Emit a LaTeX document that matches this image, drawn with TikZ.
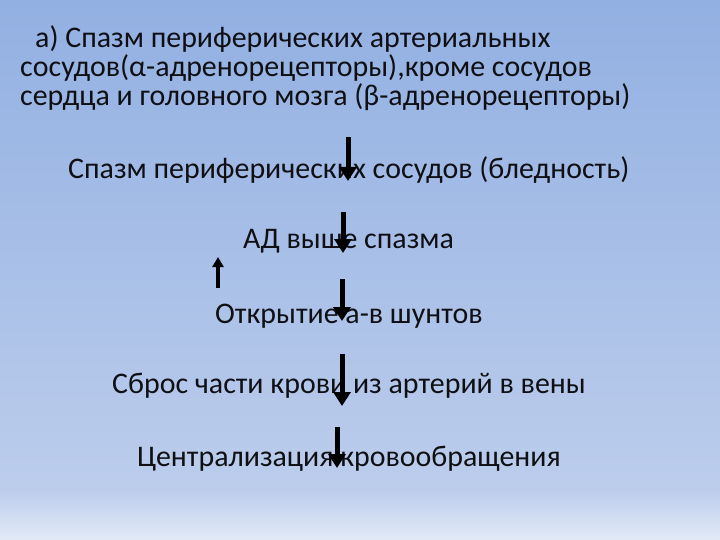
\documentclass[tikz,border=0pt]{standalone}
\usepackage{fontspec}
\setmainfont{Carlito}
\usetikzlibrary{arrows.meta}
\definecolor{bgtop}{RGB}{146,176,226}
\definecolor{bgmid}{RGB}{188,205,236}
\definecolor{bgbot}{RGB}{226,234,247}
\definecolor{txt}{RGB}{15,15,20}
\begin{document}
\begin{tikzpicture}[x=1pt,y=-1pt,
  lbl/.style={inner sep=0pt,anchor=base west,font=\fontsize{29.9}{32}\selectfont,text=txt},
  dnarrow/.style={line width=5pt,-{Triangle[width=17pt,length=14pt]}},
  uparrow/.style={line width=3.3pt,-{Triangle[width=11pt,length=10pt]}}]
\useasboundingbox (0,0) rectangle (720,540);
\shade[top color=bgtop,bottom color=bgmid] (0,0) rectangle (720,490);
\shade[top color=bgmid,bottom color=bgbot] (0,490) rectangle (720,540);
\node[lbl] (t1) at (35,48) {а) Спазм периферических артериальных};
\node[lbl] (t2) at (20,77) {сосудов(α-адренорецепторы),кроме сосудов};
\node[lbl] (t3) at (20,106) {сердца и головного мозга (β-адренорецепторы)};
\node[lbl] (s1) at (68,179) {Спазм периферических сосудов (бледность)};
\node[lbl] (s2) at (243,248) {АД выше спазма};
\node[lbl] (s3) at (215,323) {Открытие а-в шунтов};
\node[lbl] (s4) at (112,393) {Сброс части крови из артерий в вены};
\node[lbl] (s5) at (137,466) {Централизация кровообращения};
\coordinate (a1s) at (348,137); \coordinate (a1e) at (348,181);
\coordinate (a2s) at (343,212); \coordinate (a2e) at (343,253);
\coordinate (a3s) at (342,279); \coordinate (a3e) at (342,321);
\coordinate (a4s) at (342,354); \coordinate (a4e) at (342,406);
\coordinate (a5s) at (337,427); \coordinate (a5e) at (337,468);
\coordinate (ups) at (218,288); \coordinate (upe) at (218,257);
\draw[dnarrow] (a1s) -- (a1e);
\draw[dnarrow] (a2s) -- (a2e);
\draw[dnarrow] (a3s) -- (a3e);
\draw[dnarrow] (a4s) -- (a4e);
\draw[dnarrow] (a5s) -- (a5e);
\draw[uparrow] (ups) -- (upe);
\end{tikzpicture}
\end{document}
